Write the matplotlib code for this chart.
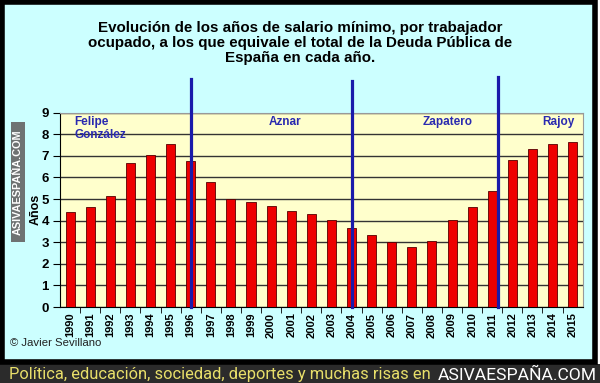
import matplotlib.pyplot as plt
from matplotlib.patches import Rectangle

plt.rcParams['font.family'] = ['Liberation Sans', 'DejaVu Sans']

years = [str(y) for y in range(1990, 2016)]
anos = [4.40, 4.64, 5.16, 6.65, 7.02, 7.53, 6.77, 5.80, 5.02, 4.85, 4.67, 4.45,
        4.31, 4.05, 3.65, 3.34, 3.01, 2.77, 3.08, 4.05, 4.64, 5.39, 6.80, 7.30,
        7.53, 7.65]
# government changes (position on the category axis) and line tops
cambios = [6, 14, 21.3]
cambio_tops = [10.55, 10.45, 10.65]
gobiernos = ['Felipe\nGonzález', 'Aznar', 'Zapatero', 'Rajoy']
gob_x = [0.2, 9.9, 17.55, 23.5]

W, H = 600, 383
fig = plt.figure(figsize=(W / 100, H / 100), dpi=100)
fig.patch.set_facecolor('white')

# background panel, black frame and bottom banner
fig.add_artist(Rectangle((0, 0), 1, 19 / H, transform=fig.transFigure,
                         facecolor='#2b2b2b', edgecolor='none', zorder=0))
fig.add_artist(Rectangle((2 / W, 21 / H), 593 / W, 360 / H, transform=fig.transFigure,
                         facecolor='#ccffff', edgecolor='black', linewidth=4, zorder=0))

ax = fig.add_axes([60 / W, 76 / H, 522.7 / W, 194.3 / H])
ax.set_facecolor('#ffffcc')
x = list(range(len(years)))
ax.bar(x, anos, width=0.45, color='#ee0000', edgecolor='#550000', linewidth=0.6, zorder=3)

ax.set_xlim(-0.5, len(years) - 0.5)
ax.set_ylim(0, 9)
ax.set_yticks(range(10))
ax.yaxis.grid(True, color='#333333', linewidth=1)
ax.set_axisbelow(True)
ax.set_xticks(x)
ax.set_xticklabels(years, rotation=90, fontsize=8, fontweight='bold')
ax.set_xticks([i + 0.5 for i in x[:-1]], minor=True)
ax.tick_params(axis='x', which='major', length=0, pad=4)
ax.tick_params(axis='x', which='minor', length=4, color='black', direction='out')
ax.tick_params(axis='y', length=5, labelsize=9.5, pad=3)
for t in ax.get_yticklabels():
    t.set_fontweight('bold')
for s in ['top', 'right']:
    ax.spines[s].set_color('#999999')
ax.spines['left'].set_color('black')
ax.spines['bottom'].set_color('black')
ax.set_ylabel('Años', fontsize=9, fontweight='bold', labelpad=0)

for cx, top in zip(cambios, cambio_tops):
    ax.plot([cx, cx], [0, top], color='#1a1aaa', linewidth=2.3, clip_on=False, zorder=4)

for name, gx in zip(gobiernos, gob_x):
    ax.text(gx, 8.85, name, color='#2a2ab0', fontsize=8.5, fontweight='bold',
            va='top', ha='left', linespacing=1.15, zorder=5)

fig.text(0.5, 1 - 43 / H,
         'Evolución de los años de salario mínimo, por trabajador\n'
         'ocupado, a los que equivale el total de la Deuda Pública de\n'
         'España en cada año.',
         ha='center', va='center', fontsize=10.9, fontweight='bold', linespacing=1.12)

fig.text(10 / W, 1 - 343 / H, '© Javier Sevillano', fontsize=8.2, color='#222222',
         va='center', ha='left')

# watermark
fig.add_artist(Rectangle((11 / W, 1 - 242 / H), 13.5 / W, 120 / H, transform=fig.transFigure,
                         facecolor='#6e7272', edgecolor='none', zorder=1))
fig.text(17.8 / W, 1 - 182 / H, 'ASIVAESPAÑA.COM', rotation=90, color='white',
         fontsize=7.8, fontweight='bold', ha='center', va='center')

fig.text(9 / W, 1 - 375 / H, 'Política, educación, sociedad, deportes y muchas risas en',
         color='#e8df6a', fontsize=11.9, family=['Roboto', 'DejaVu Sans'],
         ha='left', va='center')
fig.text(597 / W, 1 - 375 / H, 'ASIVAESPAÑA.COM', color='white', fontsize=12.6,
         family=['Roboto', 'DejaVu Sans'], ha='right', va='center')

fig.savefig('out.png', dpi=100)
